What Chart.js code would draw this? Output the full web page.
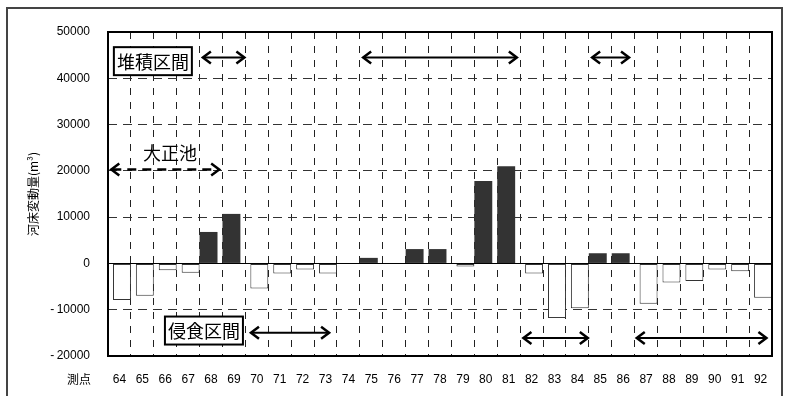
<!DOCTYPE html>
<html>
<head>
<meta charset="utf-8">
<script src="https://cdn.jsdelivr.net/npm/chart.js@4.4.0/dist/chart.umd.min.js"></script>
<style>
  html, body { margin: 0; padding: 0; background: #fff; }
  #wrap { width: 796px; height: 396px; }
</style>
</head>
<body>
<div id="wrap"><canvas id="grafico"></canvas></div>
<script>
// 測点ごとの河床変動量
const stations = ["64","65","66","67","68","69","70","71","72","73","74","75","76","77","78",
  "79","80","81","82","83","84","85","86","87","88","89","90","91","92"];
const deposit = [null, null, null, null, 6800, 10700, null, null, null, null, null, 1200, null,
  3100, 3100, null, 17800, 21000, null, null, null, 2200, 2200, null, null, null, null, null, null];
const erosion = [-7900, -7000, -1500, -2000, null, null, -5400, -2200, -1300, -2200, null, null, null,
  null, null, -650, null, null, -2200, -11800, -9700, null, null, -8700, -4100, -3800, -1300, -1700, -7400];
const yTicks = [-20000, -10000, 0, 10000, 20000, 30000, 40000, 50000];

// 区間の矢印 (from/to は区切り線単位)
const arrows = [
  { from: 4.1, to: 6.0, y: 44500, dash: false },
  { from: 11.1, to: 17.9, y: 44500, dash: false },
  { from: 21.1, to: 22.8, y: 44500, dash: false },
  { from: 0.1, to: 4.9, y: 20300, dash: true },
  { from: 6.2, to: 9.7, y: -15000, dash: false },
  { from: 18.1, to: 21.0, y: -16100, dash: false },
  { from: 23.05, to: 28.8, y: -16100, dash: false }
];
const notes = [
  { text: "堆積区間", at: 1.96, y: 43700, box: true },
  { text: "侵食区間", at: 4.19, y: -14500, box: true },
  { text: "大正池", at: 2.71, y: 24000, box: false }
];

const cjk = '"Noto Sans CJK JP", "Noto Sans", sans-serif';

const extras = {
  id: "extras",
  beforeDraw(chart) {
    const c = chart.ctx;
    c.save();
    c.strokeStyle = "#444";
    c.lineWidth = 2;
    c.strokeRect(7, 8, 775, 400);
    c.restore();
  },
  afterDatasetsDraw(chart) {
    const c = chart.ctx;
    const xs = chart.scales.x, ys = chart.scales.y;
    const n = stations.length;
    const px = b => xs.getPixelForDecimal(b / n);
    const a = chart.chartArea;

    c.save();
    // zero line
    c.strokeStyle = "#000";
    c.lineWidth = 1;
    const y0 = Math.round(ys.getPixelForValue(0)) + 0.5;
    c.beginPath(); c.moveTo(a.left, y0); c.lineTo(a.right, y0); c.stroke();

    // plot frame
    c.lineWidth = 2;
    c.strokeRect(a.left, a.top, a.right - a.left, a.bottom - a.top);

    // arrows
    arrows.forEach(ar => {
      const x1 = px(ar.from), x2 = px(ar.to), y = ys.getPixelForValue(ar.y);
      c.strokeStyle = "#000";
      c.lineWidth = ar.dash ? 2.5 : 2;
      c.setLineDash(ar.dash ? [9, 6] : []);
      c.beginPath(); c.moveTo(x1 + 2, y); c.lineTo(x2 - 2, y); c.stroke();
      c.setLineDash([]);
      c.lineWidth = 2.5;
      c.beginPath();
      c.moveTo(x1 + 9, y - 6); c.lineTo(x1 + 1, y); c.lineTo(x1 + 9, y + 6);
      c.moveTo(x2 - 9, y - 6); c.lineTo(x2 - 1, y); c.lineTo(x2 - 9, y + 6);
      c.stroke();
    });

    // labels
    c.font = "18px " + cjk;
    c.textAlign = "center";
    c.textBaseline = "middle";
    notes.forEach(nt => {
      const x = px(nt.at), y = ys.getPixelForValue(nt.y);
      if (nt.box) {
        const w = c.measureText(nt.text).width + 6;
        c.fillStyle = "#fff";
        c.fillRect(x - w / 2, y - 14, w, 28);
        c.lineWidth = 2;
        c.strokeStyle = "#000";
        c.strokeRect(x - w / 2, y - 14, w, 28);
      }
      c.fillStyle = "#000";
      c.fillText(nt.text, x, y + 1);
    });

    // axis titles
    c.font = "12px " + cjk;
    c.fillText("測点", 79, 379);
    c.translate(33, 194);
    c.rotate(-Math.PI / 2);
    c.fillText("河床変動量(m³)", 0, 0);
    c.restore();
  }
};

new Chart(document.getElementById("grafico"), {
  type: "bar",
  data: {
    labels: stations,
    datasets: [
      {
        label: "堆積",
        data: deposit,
        backgroundColor: "#333333",
        borderWidth: 0,
        categoryPercentage: 0.4348,
        barPercentage: 3.6
      },
      {
        label: "侵食",
        data: erosion,
        backgroundColor: "#ffffff",
        borderColor: "#333333",
        borderWidth: 1,
        borderSkipped: false,
        categoryPercentage: 0.4348,
        barPercentage: 3.6
      }
    ]
  },
  options: {
    responsive: true,
    maintainAspectRatio: false,
    animation: false,
    layout: { padding: { top: 32, right: 24, left: 0, bottom: 0 } },
    plugins: {
      legend: { display: false },
      tooltip: { enabled: false }
    },
    scales: {
      x: {
        offset: true,
        grid: { offset: true, color: "#222", lineWidth: 1, drawTicks: false },
        border: { display: false, dash: [7, 7] },
        ticks: {
          color: "#000",
          padding: 16,
          maxRotation: 0,
          autoSkip: false,
          font: { family: "Liberation Sans, Arial, sans-serif", size: 12 }
        },
        afterFit(scale) { scale.height = 40; }
      },
      y: {
        min: -20000,
        max: 50000,
        afterBuildTicks(scale) { scale.ticks = yTicks.map(v => ({ value: v })); },
        grid: { color: "#333", lineWidth: 1, drawTicks: false },
        border: { display: false, dash: [9, 6] },
        ticks: {
          color: "#000",
          padding: 18,
          font: { family: "Liberation Sans, Arial, sans-serif", size: 12 },
          callback: v => (v < 0 ? "-\u2009" + Math.abs(v) : String(v))
        },
        afterFit(scale) { scale.width = 108; }
      }
    }
  },
  plugins: [extras]
});
</script>
</body>
</html>
